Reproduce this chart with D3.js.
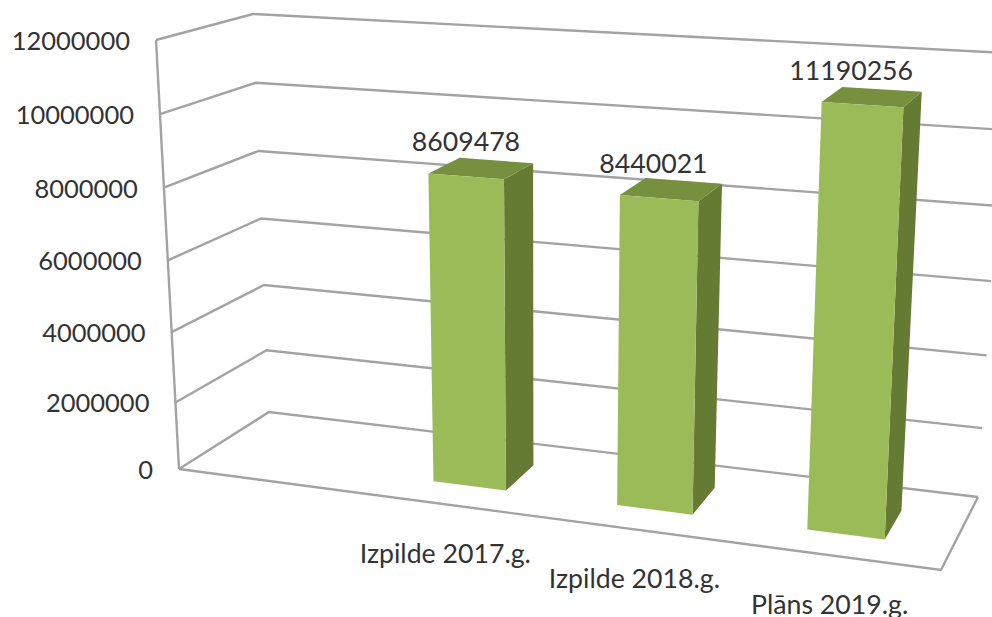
<!DOCTYPE html>
<html>
<head>
<meta charset="utf-8">
<script src="https://cdn.jsdelivr.net/npm/d3@7"></script>
<style>
    html, body { margin: 0; padding: 0; background: #fff; overflow: hidden; }
    text { font-family: Lato, "Open Sans", sans-serif; fill: #333; }
</style>
</head>
<body>
<svg id="chart" width="992" height="617"></svg>
<script>
// first slot stays empty, the chart has a blank category on the left
const categories = ['', 'Izpilde 2017.g.', 'Izpilde 2018.g.', 'Plāns 2019.g.'];
const values = [null, 8609478, 8440021, 11190256];
const yTicks = [0, 2000000, 4000000, 6000000, 8000000, 10000000, 12000000];

const width = 992;
const height = 617;

// corners of the 3d box on screen: u = left to right, w = front to back, h = up
const corners = {
    floorFrontLeft: [179, 469],
    floorFrontRight: [941, 570],
    floorBackLeft: [269, 412],
    floorBackRight: [978, 497],
    topFrontLeft: [156, 40],
    topFrontRight: [964, 90],
    topBackLeft: [253, 14],
    topBackRight: [1005, 53],
};

const mix = (a, b, t) => [a[0] + (b[0] - a[0]) * t, a[1] + (b[1] - a[1]) * t];

function project(u, w, h) {
    const c = corners;
    const floor = mix(mix(c.floorFrontLeft, c.floorFrontRight, u), mix(c.floorBackLeft, c.floorBackRight, u), w);
    const top = mix(mix(c.topFrontLeft, c.topFrontRight, u), mix(c.topBackLeft, c.topBackRight, u), w);
    return mix(floor, top, h);
}

// small pow exponents stand in for the perspective foreshortening
const hScale = d3.scalePow().exponent(1.04).domain([0, 12000000]).range([0, 1]);
const uWarp = d3.scalePow().exponent(1.08).domain([0, 1]).range([0, 1]);
const band = d3.scaleBand().domain(categories).range([0.017, 0.989]).paddingInner(0.6).paddingOuter(0.3);

const barFront = 0.3;
const barBack = 0.7;

const gridColor = '#a3a3a3';
const gridWidth = 2.4;
const frontColor = '#9bbb59';
const sideColor = '#657a33';
const topColor = '#76903f';

const svg = d3.select('#chart');
const line = d3.line();

// walls
svg.append('g')
    .selectAll('path')
    .data(yTicks)
    .enter()
    .append('path')
    .attr('d', (d) => line([project(0, 0, hScale(d)), project(0, 1, hScale(d)), project(1, 1, hScale(d))]))
    .attr('fill', 'none')
    .attr('stroke', gridColor)
    .attr('stroke-width', gridWidth);

svg.append('path')
    .attr('d', line([project(0, 0, 1), project(0, 0, 0)]))
    .attr('fill', 'none')
    .attr('stroke', gridColor)
    .attr('stroke-width', gridWidth);

// floor
svg.append('path')
    .attr('d', line([project(0, 0, 0), project(1, 0, 0), project(1, 1, 0)]))
    .attr('fill', 'none')
    .attr('stroke', gridColor)
    .attr('stroke-width', gridWidth);

// y labels
svg.append('g')
    .selectAll('text')
    .data(yTicks)
    .enter()
    .append('text')
    .attr('x', (d) => project(0, 0, hScale(d))[0] - 26)
    .attr('y', (d) => project(0, 0, hScale(d))[1] + 10)
    .attr('text-anchor', 'end')
    .attr('font-size', 25.5)
    .text((d) => d);

// bars
const rows = categories.map((name, i) => ({ name, value: values[i] })).filter((d) => d.value !== null);
const bars = svg.append('g').selectAll('g').data(rows).enter().append('g');
const uLeft = (d) => uWarp(band(d.name));
const uRight = (d) => uWarp(band(d.name) + band.bandwidth());

bars.append('path')
    .attr('fill', sideColor)
    .attr('d', (d) => {
        const h = hScale(d.value);
        return line([project(uRight(d), barFront, 0), project(uRight(d), barBack, 0),
            project(uRight(d), barBack, h), project(uRight(d), barFront, h)]) + 'Z';
    });

bars.append('path')
    .attr('fill', topColor)
    .attr('d', (d) => {
        const h = hScale(d.value);
        return line([project(uLeft(d), barFront, h), project(uRight(d), barFront, h),
            project(uRight(d), barBack, h), project(uLeft(d), barBack, h)]) + 'Z';
    });

bars.append('path')
    .attr('fill', frontColor)
    .attr('d', (d) => {
        const h = hScale(d.value);
        return line([project(uLeft(d), barFront, 0), project(uRight(d), barFront, 0),
            project(uRight(d), barFront, h), project(uLeft(d), barFront, h)]) + 'Z';
    });

// value labels, they drift left of the bar towards the right of the chart
bars.append('text')
    .attr('x', (d) => {
        const mid = (uLeft(d) + uRight(d)) / 2;
        return project(mid, barFront, hScale(d.value))[0] + 7.5 - 22 * mid;
    })
    .attr('y', (d) => project((uLeft(d) + uRight(d)) / 2, barFront, hScale(d.value))[1] - 25)
    .attr('text-anchor', 'middle')
    .attr('font-size', 26.7)
    .text((d) => d.value);

// category labels, staggered down the front edge
bars.append('text')
    .attr('x', (d) => project((uLeft(d) + uRight(d)) / 2, 0, 0)[0] - 3)
    .attr('y', (d) => project((uLeft(d) + uRight(d)) / 2, 0, 0)[1] + 58)
    .attr('text-anchor', 'middle')
    .attr('font-size', 26.7)
    .text((d) => d.name);
</script>
</body>
</html>
